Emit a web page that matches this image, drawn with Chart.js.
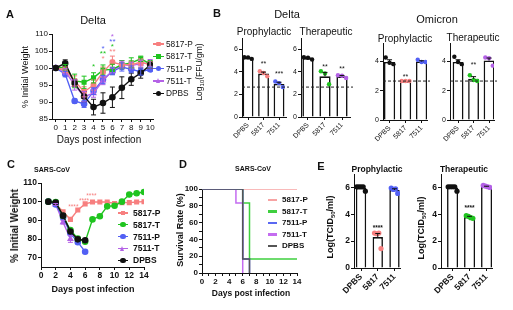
<!DOCTYPE html>
<html>
<head>
<meta charset="utf-8">
<script src="https://cdn.jsdelivr.net/npm/chart.js@4.4.1/dist/chart.umd.min.js"></script>
<style>
  body { margin: 0; width: 513px; height: 310px; position: relative; background: #fff; overflow: hidden;
         font-family: "Liberation Sans", Arial, sans-serif; color: #111; }
  canvas { position: absolute; left: 0; top: 0; }
  .t { position: absolute; white-space: nowrap; line-height: 1; }
  .mk { position: absolute; }
</style>
</head>
<body>
<canvas id="cA" width="513" height="310"></canvas>
<canvas id="cBdp" width="513" height="310"></canvas>
<canvas id="cBdt" width="513" height="310"></canvas>
<canvas id="cBop" width="513" height="310"></canvas>
<canvas id="cBot" width="513" height="310"></canvas>
<canvas id="cC" width="513" height="310"></canvas>
<canvas id="cD" width="513" height="310"></canvas>
<canvas id="cEp" width="513" height="310"></canvas>
<canvas id="cEt" width="513" height="310"></canvas>
<script>
// ---- data ----
const groups = ['5817-P', '5817-T', '7511-P', '7511-T', 'DPBS'];
const barCats = ['DPBS', '5817', '7511'];

// A: Delta, % initial weight (mean, sem)
const daysA = [0, 1, 2, 3, 4, 5, 6, 7, 8, 9, 10];
const wA_5817P = [100, 99.5, 96.2, 93, 95, 98.8, 101.7, 101, 101, 101.7, 101];
const wA_5817T = [100, 100.2, 96.2, 95.8, 97.1, 99.4, 99.6, 101, 101.5, 102.7, 101.2];
const wA_7511P = [100, 98.2, 90.3, 89.4, 93.2, 96.6, 99, 100.3, 99.6, 98.9, 99.6];
const wA_7511T = [100, 99, 95, 91.6, 92.6, 96.3, 99.2, 101, 100.7, 101.3, 101.5];
const wA_DPBS = [100, 101.4, 95.5, 91.6, 88.5, 89.7, 91.4, 94.2, 96.7, 98.5, 100.9];
const eA_5817P = [0, 0.8, 1.5, 1.5, 1.5, 1.5, 1.8, 1.2, 1, 1, 1];
const eA_5817T = [0, 0.8, 2, 1.8, 1.5, 1.5, 1.5, 1.2, 1.5, 0.8, 1];
const eA_7511P = [0, 0.8, 0.6, 1, 1, 1.2, 1, 1.2, 1, 1, 0.5];
const eA_7511T = [0, 0.8, 1.5, 1.5, 1.2, 1.2, 1, 1, 1, 1, 1];
const eA_DPBS = [0, 1, 1, 1.5, 2.3, 3, 3, 3.2, 1.8, 1.5, 1];
const yTicksA = [85, 90, 95, 100, 105, 110];

// B: Log10(FFU/gm)
const bDP_mean = [5.24, 3.85, 2.93];
const bDP_err = [0.05, 0.13, 0.15];
const bDP_pts = [[5.3, 5.28, 5.15], [4.05, 3.9, 3.6], [3.15, 3.0, 2.65]];
const bDT_mean = [5.22, 3.6, 3.6];
const bDT_err = [0.06, 0.35, 0.08];
const bDT_pts = [[5.3, 5.25, 5.1], [4.05, 3.85, 2.9], [3.7, 3.65, 3.45]];
const bOP_mean = [3.95, 2.65, 3.98];
const bOP_err = [0.15, 0, 0.05];
const bOP_pts = [[4.25, 3.9, 3.8], [2.65, 2.65, 2.65], [4.1, 3.95, 3.95]];
const bOT_mean = [3.95, 2.8, 4.05];
const bOT_err = [0.15, 0.15, 0.17];
const bOT_pts = [[4.3, 3.95, 3.8], [3.05, 2.72, 2.65], [4.25, 4.2, 3.7]];
const limitB = 2.65;

// C: SARS-CoV, % initial weight
const daysC = [1, 2, 3, 4, 5, 6, 7, 8, 9, 10, 11, 12, 13, 14];
const wC_5817P = [100, 98.8, 94.6, 90.5, 95.5, 98.8, 99.8, 99.8, 99.8, 99, 99.5, 99.5, 99.8, 100];
const wC_5817T = [100, 99.8, 92.3, 84.8, 80.2, 78.5, 90.5, 92.2, 97.5, 97.8, 100, 103.8, 104.5, 105.2];
const wC_7511P = [100, 98.5, 91.5, 83, 78.3, 73.2];
const wC_7511T = [100, 98.5, 89, 80];
const wC_DPBS = [100, 99.5, 92.5, 84, 79.8, 79.3];
const eC_7511T = [0, 0.5, 1, 1.8];
const yTicksC = [70, 80, 90, 100, 110];

// D: survival (%)
const sX_5817P = [0, 14], sY_5817P = [100, 100];
const sX_5817T = [0, 6, 7, 14], sY_5817T = [100, 83.3, 16.7, 16.7];
const sX_7511P = [0, 6, 7], sY_7511P = [100, 16.7, 0];
const sX_7511T = [0, 5, 6], sY_7511T = [100, 83.3, 0];
const sX_DPBS = [0, 6, 7], sY_DPBS = [100, 16.7, 0];

// E: Log(TCID50/ml)
const eP_mean = [5.96, 2.3, 5.81];
const eP_err = [0.06, 0.27, 0.09];
const eP_pts = [[6.05, 6.05, 6.05, 6.05, 5.72], [2.6, 2.55, 2.6, 1.45], [5.95, 5.85, 5.9, 5.55]];
const eT_mean = [5.99, 3.8, 6.06];
const eT_err = [0.06, 0.05, 0.03];
const eT_pts = [[6.05, 6.05, 6.05, 6.05, 5.72], [3.9, 3.85, 3.75, 3.7], [6.15, 6.1, 6.05, 6.0]];

// ---- colours ----
const colA = ['#f77f7f', '#1fc41f', '#5260f4', '#b462e6', '#111111'];
const colD = ['#f7a3a3', '#3fcf3f', '#5a68f2', '#c46cf0', '#555555'];
const shapesA = ['rectRounded', 'rect', 'circle', 'triangle', 'circle'];
const shapesC = ['rect', 'circle', 'circle', 'triangle', 'circle'];

// ---- helpers ----
const YW = 22;
Chart.defaults.font.family = '"Liberation Sans", Arial, sans-serif';
Chart.defaults.color = '#111';

// padding so that the plot area lands on (l,t)-(r,b)
function pad(l, t, r, b, xh) {
  return { left: l - YW, top: t, right: 513 - r, bottom: 310 - b - xh };
}

function axis(isX, min, max, ticks, o) {
  const a = {
    type: 'linear', min, max, offset: false,
    afterBuildTicks: s => { s.ticks = ticks.map(v => ({ value: v })); },
    afterFit: isX ? s => { s.height = o.xh; } : s => { s.width = YW; },
    border: { color: '#111', width: 1 },
    grid: { drawOnChartArea: false, color: '#111', tickLength: 3, offset: false },
    ticks: {
      color: '#111', autoSkip: false, padding: 1,
      font: { size: o.size, weight: o.bold ? 'bold' : 'normal' },
      maxRotation: o.rot || 0, minRotation: o.rot || 0
    }
  };
  if (o.cb) a.ticks.callback = o.cb;
  return a;
}

function overlay(opt) {
  return {
    id: 'overlay',
    afterDatasetsDraw(chart) {
      const ctx = chart.ctx, xs = chart.scales.x, ys = chart.scales.y, ca = chart.chartArea;
      ctx.save();
      if (opt.ref != null) {
        const y = ys.getPixelForValue(opt.ref);
        ctx.setLineDash([3, 2]);
        ctx.strokeStyle = '#222';
        ctx.lineWidth = 1;
        ctx.beginPath();
        ctx.moveTo(ca.left, y);
        ctx.lineTo(ca.right + 3, y);
        ctx.stroke();
        ctx.setLineDash([]);
      }
      chart.data.datasets.forEach(ds => {
        if (!ds.err) return;
        ctx.strokeStyle = ds.errColor || ds.borderColor;
        ctx.lineWidth = 1;
        ds.data.forEach((p, j) => {
          const e = ds.err[j];
          if (!e) return;
          const x = xs.getPixelForValue(p.x);
          const y1 = ys.getPixelForValue(p.y + e);
          const y2 = ys.getPixelForValue(ds.errUp ? p.y : p.y - e);
          ctx.beginPath();
          ctx.moveTo(x, y1); ctx.lineTo(x, y2);
          ctx.moveTo(x - 2.5, y1); ctx.lineTo(x + 2.5, y1);
          if (!ds.errUp) { ctx.moveTo(x - 2.5, y2); ctx.lineTo(x + 2.5, y2); }
          ctx.stroke();
        });
      });
      (opt.marks || []).forEach(m => {
        ctx.fillStyle = m.c || '#111';
        ctx.font = (opt.bold ? 'bold ' : '') + (opt.mSize || 8) + 'px "Liberation Sans", Arial';
        ctx.textAlign = 'center';
        ctx.textBaseline = 'middle';
        ctx.fillText(m.t, xs.getPixelForValue(m.x), ys.getPixelForValue(m.y));
      });
      ctx.restore();
    }
  };
}

function baseOpts(padding, scales) {
  return {
    responsive: false, animation: false, devicePixelRatio: 1, events: [],
    layout: { padding },
    plugins: { legend: { display: false }, tooltip: { enabled: false } },
    scales
  };
}

function lineDs(label, xs, ys, color, style, err) {
  return {
    label, data: ys.map((v, i) => ({ x: xs[i], y: v })),
    borderColor: color, backgroundColor: color,
    pointBackgroundColor: color, pointBorderColor: color,
    pointStyle: style, pointRadius: 2.6, borderWidth: 1.4, err
  };
}

function barChart(id, box, xr, yMax, yTicks, means, errs, pts, colors, o) {
  const xh = 34;
  const xy = [];
  const ptCol = [];
  pts.forEach((arr, i) => {
    const n = arr.length;
    const sp = n > 3 ? 0.13 : 0.24;
    arr.forEach((v, k) => {
      xy.push({ x: i + (k - (n - 1) / 2) * sp, y: v });
      ptCol.push(colors[i]);
    });
  });
  new Chart(document.getElementById(id), {
    type: 'bar',
    data: {
      datasets: [
        {
          type: 'scatter', data: xy, order: 1,
          pointBackgroundColor: ptCol, pointBorderColor: ptCol,
          pointRadius: o.r || 2.2, pointBorderWidth: 0
        },
        {
          type: 'bar', data: means.map((m, i) => ({ x: i, y: m })), order: 2,
          backgroundColor: '#fff', borderColor: '#111', borderWidth: 1.6,
          barPercentage: o.bw, categoryPercentage: 1,
          err: errs, errUp: true, errColor: '#111'
        }
      ]
    },
    options: baseOpts(pad(box[0], box[1], box[2], box[3], xh), {
      x: axis(true, xr[0], xr[1], [0, 1, 2], { xh, size: o.fx, bold: o.bold, rot: 45, cb: v => barCats[v] }),
      y: axis(false, 0, yMax, yTicks, { size: o.fy, bold: o.bold })
    }),
    plugins: [overlay({ ref: o.ref, marks: o.marks, mSize: o.mSize, bold: o.bold })]
  });
}

// ---- panel A ----
new Chart(document.getElementById('cA'), {
  type: 'line',
  data: {
    datasets: [
      lineDs(groups[4], daysA, wA_DPBS, colA[4], shapesA[4], eA_DPBS),
      lineDs(groups[0], daysA, wA_5817P, colA[0], shapesA[0], eA_5817P),
      lineDs(groups[1], daysA, wA_5817T, colA[1], shapesA[1], eA_5817T),
      lineDs(groups[3], daysA, wA_7511T, colA[3], shapesA[3], eA_7511T),
      lineDs(groups[2], daysA, wA_7511P, colA[2], shapesA[2], eA_7511P)
    ]
  },
  options: baseOpts(pad(52, 34, 153, 119, 22), {
    x: axis(true, -0.4, 10.3, daysA, { xh: 22, size: 8 }),
    y: axis(false, 85, 110, yTicksA, { size: 8 })
  }),
  plugins: [overlay({
    mSize: 8,
    marks: [
      { x: 4, y: 100.3, t: '*', c: colA[1] },
      { x: 5, y: 105.6, t: '*', c: colA[2] },
      { x: 5, y: 104.2, t: '**', c: colA[1] },
      { x: 5, y: 102.7, t: '*', c: colA[0] },
      { x: 6, y: 109.1, t: '*', c: colA[3] },
      { x: 6, y: 107.6, t: '**', c: colA[2] },
      { x: 6, y: 106.2, t: '*', c: colA[1] },
      { x: 6, y: 104.7, t: '**', c: colA[0] }
    ]
  })]
});

// ---- panel B ----
const ticksB = [0, 2, 4, 6], ticksO = [0, 2, 4];
barChart('cBdp', [242, 38, 286, 117], [-0.39, 2.45], 7, ticksB, bDP_mean, bDP_err, bDP_pts,
  ['#111', colA[0], colA[2]],
  { bw: 0.7, fx: 7, fy: 7, ref: limitB, mSize: 7, marks: [{ x: 1, y: 4.7, t: '**' }, { x: 2, y: 3.8, t: '***' }] });
barChart('cBdt', [301, 38, 350, 117], [-0.41, 2.47], 7, ticksB, bDT_mean, bDT_err, bDT_pts,
  ['#111', colA[1], colA[3]],
  { bw: 0.66, fx: 7, fy: 7, ref: limitB, mSize: 7, marks: [{ x: 1, y: 4.45, t: '**' }, { x: 2, y: 4.25, t: '**' }] });
barChart('cBop', [383, 43, 427, 120], [-0.41, 2.34], 5.24, ticksO, bOP_mean, bOP_err, bOP_pts,
  ['#111', colA[0], colA[2]],
  { bw: 0.7, fx: 7, fy: 7, ref: limitB, mSize: 7, marks: [{ x: 1, y: 2.95, t: '**' }] });
barChart('cBot', [450, 43, 494, 120], [-0.52, 2.32], 5.24, ticksO, bOT_mean, bOT_err, bOT_pts,
  ['#111', colA[1], colA[3]],
  { bw: 0.7, fx: 7, fy: 7, ref: limitB, mSize: 7, marks: [{ x: 1, y: 3.75, t: '**' }] });

// ---- panel C ----
new Chart(document.getElementById('cC'), {
  type: 'line',
  data: {
    datasets: [
      lineDs(groups[4], daysC, wC_DPBS, colA[4], shapesC[4]),
      lineDs(groups[1], daysC, wC_5817T, colA[1], shapesC[1]),
      lineDs(groups[2], daysC, wC_7511P, colA[2], shapesC[2]),
      lineDs(groups[3], daysC, wC_7511T, colA[3], shapesC[3], eC_7511T),
      lineDs(groups[0], daysC, wC_5817P, colA[0], shapesC[0])
    ]
  },
  options: baseOpts(pad(41, 183, 144, 267, 22), {
    x: axis(true, 0, 14, [0, 2, 4, 6, 8, 10, 12, 14], { xh: 22, size: 8.5, bold: true }),
    y: axis(false, 65, 110, yTicksC, { size: 8.5, bold: true })
  }),
  plugins: [overlay({
    mSize: 6.5,
    marks: [
      { x: 4.4, y: 97.2, t: '****', c: colA[0] },
      { x: 5.85, y: 100.3, t: '****', c: colA[0] },
      { x: 6.85, y: 102.8, t: '****', c: colA[0] }
    ]
  })]
});

// ---- panel D ----
function survDs(label, xs, ys, color) {
  return {
    label, data: ys.map((v, i) => ({ x: xs[i], y: v })),
    borderColor: color, backgroundColor: color, borderWidth: 1.5,
    pointRadius: 0, stepped: true
  };
}
new Chart(document.getElementById('cD'), {
  type: 'line',
  data: {
    datasets: [
      survDs(groups[4], sX_DPBS, sY_DPBS, colD[4]),
      survDs(groups[2], sX_7511P, sY_7511P, colD[2]),
      survDs(groups[3], sX_7511T, sY_7511T, colD[3]),
      survDs(groups[1], sX_5817T, sY_5817T, colD[1]),
      survDs(groups[0], sX_5817P, sY_5817P, colD[0])
    ]
  },
  options: baseOpts(pad(202, 189, 297, 273, 18), {
    x: axis(true, 0, 14, [0, 1, 2, 3, 4, 5, 6, 7, 8, 9, 10, 11, 12, 13, 14],
      { xh: 18, size: 8, bold: true, cb: v => (v % 2 ? '' : v) }),
    y: axis(false, 0, 100, [0, 10, 20, 30, 40, 50, 60, 70, 80, 90, 100],
      { size: 8, bold: true, cb: v => (v % 20 ? '' : v) })
  })
});

// ---- panel E ----
barChart('cEp', [354, 174, 400, 268], [-0.42, 2.33], 7, ticksB, eP_mean, eP_err, eP_pts,
  ['#111', colA[0], colA[2]],
  { bw: 0.62, fx: 8.5, fy: 8.5, bold: true, r: 2.6, mSize: 6.5, marks: [{ x: 1, y: 2.95, t: '****' }] });
barChart('cEt', [441, 174, 492, 268], [-0.68, 2.32], 7, ticksB, eT_mean, eT_err, eT_pts,
  ['#111', colA[1], colA[3]],
  { bw: 0.65, fx: 8.5, fy: 8.5, bold: true, r: 2.6, mSize: 6.5, marks: [{ x: 1, y: 4.45, t: '****' }] });

// ---- text ----
function txt(html, x, y, size, o = {}) {
  const d = document.createElement('div');
  d.className = 't';
  d.innerHTML = html;
  d.style.left = x + 'px';
  d.style.top = y + 'px';
  d.style.fontSize = size + 'px';
  if (o.bold) d.style.fontWeight = 'bold';
  let tr = o.left ? 'translate(0,-50%)' : 'translate(-50%,-50%)';
  if (o.rot) tr += ' rotate(-90deg)';
  d.style.transform = tr;
  document.body.appendChild(d);
}

function marker(shape, cx, cy, r, color) {
  const m = document.createElement('div');
  m.className = 'mk';
  if (shape === 'triangle') {
    m.style.width = '0'; m.style.height = '0';
    m.style.borderLeft = r + 'px solid transparent';
    m.style.borderRight = r + 'px solid transparent';
    m.style.borderBottom = (2 * r) + 'px solid ' + color;
    m.style.left = (cx - r) + 'px'; m.style.top = (cy - r) + 'px';
  } else {
    const s = shape === 'circle' ? 2 * r : 1.8 * r;
    m.style.width = s + 'px'; m.style.height = s + 'px';
    m.style.background = color;
    m.style.left = (cx - s / 2) + 'px'; m.style.top = (cy - s / 2) + 'px';
    if (shape === 'circle') m.style.borderRadius = '50%';
    if (shape === 'rectRounded') m.style.borderRadius = '1px';
  }
  document.body.appendChild(m);
}

function legend(x, y, dy, len, lw, labels, colors, shapes, size, bold, gap) {
  labels.forEach((lab, k) => {
    const cy = y + k * dy;
    const ln = document.createElement('div');
    ln.className = 'mk';
    ln.style.left = x + 'px';
    ln.style.top = (cy - lw / 2) + 'px';
    ln.style.width = len + 'px';
    ln.style.height = lw + 'px';
    ln.style.background = colors[k];
    document.body.appendChild(ln);
    if (shapes) marker(shapes[k], x + len / 2, cy, 2.6, colors[k]);
    txt(lab, x + len + gap, cy, size, { left: true, bold });
  });
}

// panel letters
txt('A', 10, 14, 11, { bold: true });
txt('B', 217, 13, 11, { bold: true });
txt('C', 11, 164, 11, { bold: true });
txt('D', 183, 164, 11, { bold: true });
txt('E', 321, 166, 11, { bold: true });

// A
txt('Delta', 93, 20, 11);
txt('% Initial Weight', 25, 77, 9, { rot: true });
txt('Days post infection', 99, 140, 10);
legend(153, 44, 12.3, 11, 1.4, groups, colA, shapesA, 8.3, false, 2);

// B
txt('Delta', 287, 14, 11);
txt('Omicron', 437, 19, 11);
txt('Prophylactic', 264, 32, 10);
txt('Therapeutic', 326, 32, 10);
txt('Prophylactic', 405, 39, 10);
txt('Therapeutic', 473, 38, 10);
txt('Log<sub style="font-size:6px">10</sub>(FFU/gm)', 200, 72, 8.5, { rot: true });

// C
txt('SARS-CoV', 52, 169, 7, { bold: true });
txt('% Initial Weight', 15, 226, 10, { bold: true, rot: true });
txt('Days post infection', 93, 289, 9, { bold: true });
legend(118, 213, 11.8, 10, 1.4, groups, colA, shapesC, 8.5, true, 5);

// D
txt('SARS-CoV', 253, 168, 7, { bold: true });
txt('Survival Rate (%)', 180, 230, 9, { bold: true, rot: true });
txt('Days post infection', 251, 293, 8.5, { bold: true });
legend(268, 200, 11.5, 9, 2.5, groups, colD, null, 8, true, 5);

// E
txt('Prophylactic', 377, 169, 8.5, { bold: true });
txt('Therapeutic', 464, 169, 8.5, { bold: true });
txt('Log(TCID<sub style="font-size:6px">50</sub>/ml)', 331, 227, 9, { bold: true, rot: true });
txt('Log(TCID<sub style="font-size:6px">50</sub>/ml)', 422, 228, 9, { bold: true, rot: true });
</script>
</body>
</html>
